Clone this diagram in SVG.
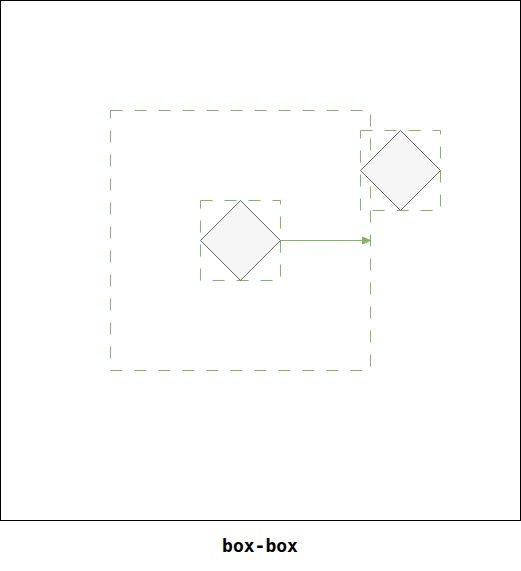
<svg xmlns="http://www.w3.org/2000/svg" width="521" height="571" viewBox="0 0 521 571">
<style>
.frame{fill:none;stroke:#82b366;stroke-width:1;stroke-dasharray:12 12}
.dia{fill:#f5f5f5;stroke:#666666;stroke-width:1}
.lbl{font-family:"DejaVu Sans Mono",monospace;font-weight:bold;font-size:18px;fill:#000}
</style>
<defs>
<marker id="ah" markerWidth="10" markerHeight="10" refX="9" refY="5" orient="auto" markerUnits="userSpaceOnUse">
<path d="M1,1.5 L9,5 L1,8.5 Z" fill="#82b366" stroke="#82b366"/>
</marker>
</defs>
<rect x="0.5" y="0.5" width="520" height="520" fill="#ffffff" stroke="#000000"/>
<g id="outer-box">
<rect class="frame" x="110.5" y="110.5" width="260" height="260"/>
</g>
<g id="box-a">
<rect class="frame" x="200.5" y="200.5" width="80" height="80"/>
<path class="dia" d="M240.5,200.5 L280.5,240.5 L240.5,280.5 L200.5,240.5 Z"/>
</g>
<g id="box-b">
<rect class="frame" x="360.5" y="130.5" width="80" height="80"/>
<path class="dia" d="M400.5,130.5 L440.5,170.5 L400.5,210.5 L360.5,170.5 Z"/>
</g>
<g id="connectors">
<line x1="280.5" y1="240.5" x2="370.5" y2="240.5" stroke="#82b366" stroke-width="1" marker-end="url(#ah)"/>
</g>
<text class="lbl" x="260" y="552" text-anchor="middle">box-box</text>
</svg>
